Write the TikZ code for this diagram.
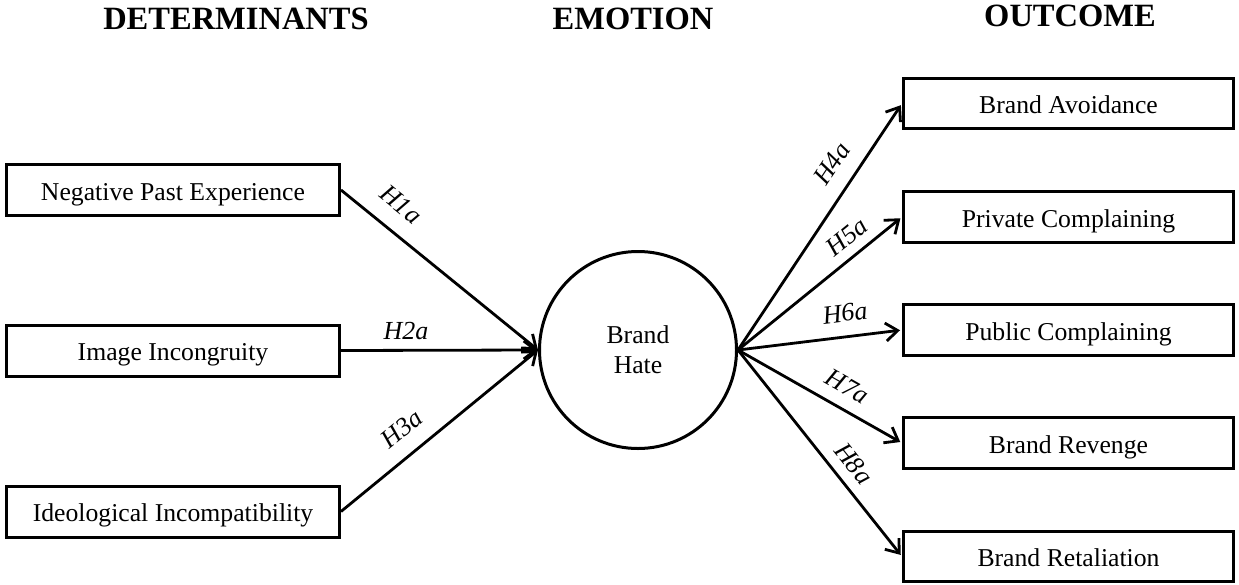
\documentclass[tikz,border=0pt]{standalone}
\usepackage{fontspec}
\setmainfont{Liberation Serif}
\usetikzlibrary{arrows.meta}
\begin{document}
\begin{tikzpicture}[x=1pt,y=-1pt,
  box/.style={draw, line width=3pt, rectangle, minimum width=333pt, minimum height=51pt,
    inner sep=0pt, text height=20pt, text depth=0pt, font=\fontsize{25.7}{30}\selectfont},
  outbox/.style={box, minimum width=330pt, minimum height=50.5pt},
  head/.style={anchor=base, inner sep=0pt, font=\fontsize{32.5}{36}\selectfont\bfseries},
  emo/.style={draw, circle, line width=3pt, minimum size=197pt, inner sep=0pt, align=center,
    font=\fontsize{25.7}{30}\selectfont},
  link/.style={line width=2.8pt, -{Straight Barb[length=12pt,width=18pt]}},
  hyp/.style={sloped, above=#1, inner sep=0pt, font=\fontsize{26}{30}\selectfont\itshape}]
\useasboundingbox (0,0) rectangle (1239,584);

% column headings
\node[head] (hdet) at (236,29) {DETERMINANTS};
\node[head] (hemo) at (633,29) {EMOTION};
\node[head] (hout) at (1070,26) {OUTCOME};

% determinants
\node[box] (npe) at (173,190) {Negative Past Experience};
\node[box] (ii)  at (173,350.5) {Image Incongruity};
\node[box] (ic)  at (173,511.5) {Ideological Incompatibility};

% emotion
\node[emo] (hate) at (638,350) {Brand\\Hate};

% outcomes
\node[outbox] (ba)  at (1068.5,103.5) {Brand Avoidance};
\node[outbox] (pvc) at (1068.5,217) {Private Complaining};
\node[outbox] (puc) at (1068.5,330) {Public Complaining};
\node[outbox] (brv) at (1068.5,443) {Brand Revenge};
\node[outbox] (brt) at (1068.5,556.5) {Brand Retaliation};

% hypothesised paths into the emotion
\draw[link] (npe.east) -- node[hyp=16.5pt, pos=0.22] {H1a} (hate.west);
\draw[link] (ii.east)  -- node[hyp=9.5pt,  pos=0.33] {H2a} (hate.west);
\draw[link] (ic.east)  -- node[hyp=15.5pt, pos=0.39] {H3a} (hate.west);

% hypothesised paths to the outcomes
\draw[link, shorten >=2pt] (hate.east) -- node[hyp=15pt,   pos=0.70] {H4a} (ba.west);
\draw[link, shorten >=2pt] (hate.east) -- node[hyp=9.5pt,  pos=0.74] {H5a} (pvc.west);
\draw[link, shorten >=2pt] (hate.east) -- node[hyp=13.5pt, pos=0.67] {H6a} (puc.west);
\draw[link, shorten >=2pt] (hate.east) -- node[hyp=12pt,   pos=0.60] {H7a} (brv.west);
\draw[link, shorten >=2pt] (hate.east) -- node[hyp=10pt,   pos=0.61] {H8a} (brt.west);
\end{tikzpicture}
\end{document}
